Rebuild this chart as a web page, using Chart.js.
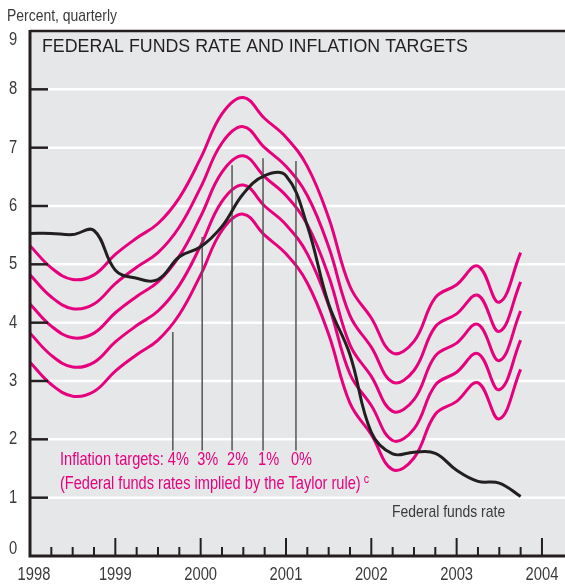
<!DOCTYPE html>
<html>
<head>
<meta charset="utf-8">
<script src="https://cdn.jsdelivr.net/npm/chart.js@4.4.0/dist/chart.umd.min.js"></script>
<style>
    html, body { margin: 0; padding: 0; background: #fff; }
    #wrap { width: 565px; height: 585px; }
</style>
</head>
<body>
<div id="wrap"><canvas id="taylorChart" width="565" height="585"></canvas></div>
<script>
// quarterly points (plotted at end of quarter)
const quarters = [1998.00, 1998.25, 1998.50, 1998.75, 1999.00, 1999.25, 1999.50, 1999.75,
                  2000.00, 2000.25, 2000.50, 2000.75, 2001.00, 2001.25, 2001.50, 2001.75,
                  2002.00, 2002.25, 2002.50, 2002.75, 2003.00, 2003.25, 2003.50, 2003.75];

const fedFunds = [5.53, 5.53, 5.51, 5.58, 4.90, 4.76, 4.74, 5.13, 5.30, 5.65, 6.21, 6.52,
                  6.52, 5.66, 4.32, 3.45, 2.12, 1.75, 1.78, 1.76, 1.47, 1.28, 1.25, 1.02];

// Taylor rule rates by inflation target
const taylor0 = [5.32, 4.94, 4.74, 4.82, 5.17, 5.45, 5.70, 6.14, 6.82, 7.58, 7.86, 7.50,
                 7.18, 6.68, 5.80, 4.62, 4.08, 3.48, 3.68, 4.43, 4.65, 4.97, 4.35, 5.20];
const taylor1 = [4.82, 4.44, 4.24, 4.32, 4.67, 4.95, 5.20, 5.64, 6.32, 7.08, 7.36, 7.00,
                 6.68, 6.18, 5.30, 4.12, 3.58, 2.98, 3.18, 3.93, 4.15, 4.47, 3.85, 4.70];
const taylor2 = [4.32, 3.94, 3.74, 3.82, 4.17, 4.45, 4.70, 5.14, 5.82, 6.58, 6.86, 6.50,
                 6.18, 5.68, 4.80, 3.62, 3.08, 2.48, 2.68, 3.43, 3.65, 3.97, 3.35, 4.20];
const taylor3 = [3.82, 3.44, 3.24, 3.32, 3.67, 3.95, 4.20, 4.64, 5.32, 6.08, 6.36, 6.00,
                 5.68, 5.18, 4.30, 3.12, 2.58, 1.98, 2.18, 2.93, 3.15, 3.47, 2.85, 3.70];
const taylor4 = [3.32, 2.94, 2.74, 2.82, 3.17, 3.45, 3.70, 4.14, 4.82, 5.58, 5.86, 5.50,
                 5.18, 4.68, 3.80, 2.62, 2.08, 1.48, 1.68, 2.43, 2.65, 2.97, 2.35, 3.20];

// leader lines for the target labels
const targetLabels = ['4%', '3%', '2%', '1%', '0%'];
const pointerX = [1999.674, 2000.018, 2000.368, 2000.731, 2001.117];
const pointerTop = [3.84, 5.47, 6.70, 6.82, 6.77];
const pointerBottom = 1.81;

const yTicks = [0, 1, 2, 3, 4, 5, 6, 7, 8, 9];
const xYears = [1998, 1999, 2000, 2001, 2002, 2003, 2004];

const PINK = '#e6007e';
const INK = '#231f20';
const TEXT = '#3a3a3a';
const SANS = '"Liberation Sans", Arial, sans-serif';

function pts(arr) {
    return quarters.map((q, i) => ({ x: q, y: arr[i] }));
}

// condensed look: squeeze Liberation Sans horizontally
function narrowText(ctx, text, x, y, align) {
    const w = ctx.measureText(text).width * 0.82;
    ctx.save();
    ctx.translate(x, y);
    ctx.scale(0.82, 1);
    ctx.textAlign = align || 'left';
    ctx.fillText(text, 0, 0);
    ctx.restore();
    return w;
}

const datasets = [];
datasets.push({ data: pts(fedFunds), borderColor: INK, borderWidth: 3, tension: 0.4 });
pointerX.forEach((px, i) => {
    datasets.push({
        data: [{ x: px, y: pointerBottom }, { x: px, y: pointerTop[i] }],
        borderColor: '#555', borderWidth: 1.5, tension: 0
    });
});
[taylor0, taylor1, taylor2, taylor3, taylor4].forEach(arr => {
    datasets.push({ data: pts(arr), borderColor: PINK, borderWidth: 3, tension: 0.4 });
});

const framePlugin = {
    id: 'frame',
    beforeDraw(chart) {
        const { ctx, chartArea: a, scales: { y } } = chart;
        ctx.save();
        ctx.fillStyle = '#fff';
        ctx.fillRect(0, 0, chart.width, chart.height);
        ctx.fillStyle = '#e6e7e8';
        ctx.fillRect(a.left, a.top, a.right - a.left, a.bottom - a.top);
        // white gridlines
        ctx.strokeStyle = '#fff';
        ctx.lineWidth = 2.5;
        yTicks.forEach(v => {
            if (v === 0 || v === 9) return;
            const py = y.getPixelForValue(v);
            ctx.beginPath();
            ctx.moveTo(a.left, py);
            ctx.lineTo(a.right, py);
            ctx.stroke();
        });
        ctx.restore();
    },
    afterDatasetsDraw(chart) {
        const { ctx, chartArea: a, scales: { x, y } } = chart;
        ctx.save();
        ctx.strokeStyle = INK;

        // y tick marks
        ctx.lineWidth = 2.5;
        yTicks.forEach(v => {
            if (v === 0 || v === 9) return;
            const py = y.getPixelForValue(v);
            ctx.beginPath();
            ctx.moveTo(a.left, py);
            ctx.lineTo(a.left + 18, py);
            ctx.stroke();
        });

        // x tick marks (quarters)
        ctx.lineWidth = 2;
        for (let q = 1998.25; q <= 2004.01; q += 0.25) {
            const px = x.getPixelForValue(q);
            const major = Math.abs(q - Math.round(q)) < 0.01;
            ctx.beginPath();
            ctx.moveTo(px, a.bottom);
            ctx.lineTo(px, a.bottom - (major ? 18 : 9));
            ctx.stroke();
        }

        // frame lines
        ctx.lineWidth = 2.3;
        ctx.beginPath();
        ctx.moveTo(a.left, a.top);
        ctx.lineTo(a.right, a.top);
        ctx.stroke();
        ctx.lineWidth = 3;
        ctx.beginPath();
        ctx.moveTo(a.left, a.top - 1);
        ctx.lineTo(a.left, a.bottom);
        ctx.lineTo(a.right, a.bottom);
        ctx.stroke();

        // tick labels
        ctx.fillStyle = TEXT;
        ctx.font = '18px ' + SANS;
        ctx.textBaseline = 'middle';
        yTicks.forEach(v => {
            let py = y.getPixelForValue(v);
            if (v === 9) py += 9;
            if (v === 0) py -= 7;
            narrowText(ctx, String(v), 13, py, 'center');
        });
        xYears.forEach(yr => {
            let px = x.getPixelForValue(yr);
            if (yr === 1998) px += 4;
            narrowText(ctx, String(yr), px, 575, 'center');
        });

        // texts
        ctx.font = '17px ' + SANS;
        narrowText(ctx, 'Percent, quarterly', 7, 16.5);
        narrowText(ctx, 'Federal funds rate', 392, 512);

        ctx.fillStyle = INK;
        ctx.font = '17.8px ' + SANS;
        ctx.textAlign = 'left';
        ctx.fillText('FEDERAL FUNDS RATE AND INFLATION TARGETS', 42, 47);

        ctx.fillStyle = PINK;
        ctx.font = '17.8px ' + SANS;
        narrowText(ctx, 'Inflation targets:', 60, 460);
        targetLabels.forEach((t, i) => {
            narrowText(ctx, t, x.getPixelForValue(pointerX[i]) - 5, 460);
        });
        const w = narrowText(ctx, '(Federal funds rates implied by the Taylor rule)', 60, 484);
        ctx.font = '13px ' + SANS;
        narrowText(ctx, 'c', 60 + w + 3, 479);
        ctx.restore();
    }
};

new Chart(document.getElementById('taylorChart').getContext('2d'), {
    type: 'line',
    data: { datasets: datasets },
    options: {
        responsive: false,
        animation: false,
        devicePixelRatio: 1,
        layout: { padding: { left: 30, top: 31, right: 0, bottom: 29 } },
        elements: { point: { radius: 0 } },
        plugins: { legend: { display: false }, tooltip: { enabled: false } },
        scales: {
            x: { type: 'linear', min: 1998, max: 2004.27, display: false },
            y: { min: 0, max: 9, display: false }
        }
    },
    plugins: [framePlugin]
});
</script>
</body>
</html>
